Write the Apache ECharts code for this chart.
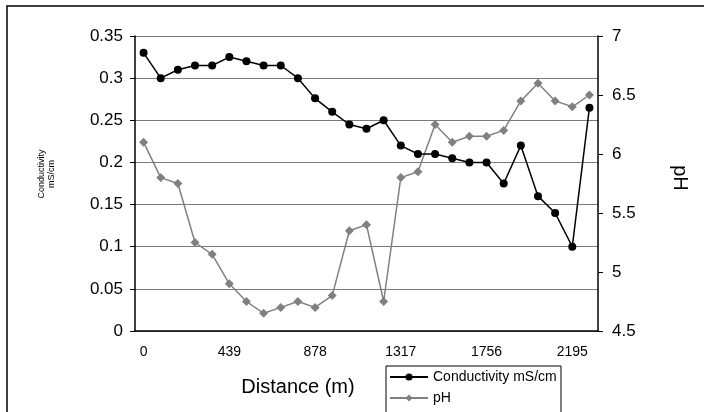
<!DOCTYPE html>
<html>
<head>
<meta charset="utf-8">
<script src="https://cdn.jsdelivr.net/npm/echarts@6/dist/echarts.min.js"></script>
<style>html,body{margin:0;padding:0;background:#fff}#c{width:704px;height:412px}</style>
</head>
<body>
<div id="c"></div>
<script>
const distances = ['0','88','176','263','351','439','527','615','702','790','878','966','1054','1141','1229','1317','1405','1493','1580','1668','1756','1844','1932','2019','2107','2195','2283'];
const conductivity = [0.33,0.30,0.31,0.315,0.315,0.325,0.32,0.315,0.315,0.30,0.276,0.26,0.245,0.24,0.25,0.22,0.21,0.21,0.205,0.20,0.20,0.175,0.22,0.16,0.14,0.10,0.265];
const ph = [6.1,5.8,5.75,5.25,5.15,4.9,4.75,4.65,4.7,4.75,4.7,4.8,5.35,5.4,4.75,5.8,5.85,6.25,6.1,6.15,6.15,6.2,6.45,6.6,6.45,6.4,6.5];
const leftTicks = {min:0, max:0.35, interval:0.05};
const rightTicks = {min:4.5, max:7, interval:0.5};

const FONT = 'Liberation Sans, Arial, sans-serif';
const legendBase = {
  orient:'vertical', left:389, itemWidth:38, itemHeight:9,
  textStyle:{fontFamily:FONT, fontSize:14, color:'#000'}, padding:0
};
const chart = echarts.init(document.getElementById('c'));
chart.setOption({
  animation:false,
  backgroundColor:'#fff',
  textStyle:{fontFamily:FONT},
  grid:{left:135, right:106, top:36, bottom:81, containLabel:false},
  legend:[
    Object.assign({}, legendBase, {top:370, data:['Conductivity mS/cm']}),
    Object.assign({}, legendBase, {top:391, data:['pH']})
  ],
  xAxis:{
    type:'category', data:distances, boundaryGap:true,
    axisLine:{lineStyle:{color:'#000', width:1.5}},
    axisTick:{interval:0, length:5, lineStyle:{color:'#000'}},
    axisLabel:{interval:4, margin:14, fontSize:14, color:'#000', fontFamily:FONT},
    splitLine:{show:false}
  },
  yAxis:[
    {type:'value', min:leftTicks.min, max:leftTicks.max, interval:leftTicks.interval,
     axisLine:{show:true, lineStyle:{color:'#000', width:1.5}},
     axisTick:{show:true, length:5, lineStyle:{color:'#000'}},
     axisLabel:{margin:12, fontSize:17, color:'#000', fontFamily:FONT},
     splitLine:{show:true, lineStyle:{color:'#7a7a7a', width:1}}},
    {type:'value', position:'right', min:rightTicks.min, max:rightTicks.max, interval:rightTicks.interval,
     axisLine:{show:true, lineStyle:{color:'#000', width:1.5}},
     axisTick:{show:true, length:5, lineStyle:{color:'#000'}},
     axisLabel:{margin:14, fontSize:17, color:'#000', fontFamily:FONT},
     splitLine:{show:false}}
  ],
  series:[
    {name:'Conductivity mS/cm', type:'line', yAxisIndex:0, data:conductivity,
     symbol:'circle', symbolSize:8, showAllSymbol:true,
     lineStyle:{color:'#000', width:1.5}, itemStyle:{color:'#000'}, z:3},
    {name:'pH', type:'line', yAxisIndex:1, data:ph,
     symbol:'diamond', symbolSize:9, showAllSymbol:true,
     lineStyle:{color:'#808080', width:1.5}, itemStyle:{color:'#808080'}, z:2}
  ],
  graphic:[
    {type:'rect', shape:{x:7, y:6, width:720, height:430}, style:{fill:null, stroke:'#000', lineWidth:1.5}, silent:true},
    {type:'rect', shape:{x:386, y:366, width:175, height:60}, style:{fill:null, stroke:'#000', lineWidth:1}, silent:true},
    {type:'text', x:298, y:387, style:{text:'Distance (m)', font:'20px '+FONT, fill:'#000', align:'center', verticalAlign:'middle'}},
    {type:'text', x:47, y:174, rotation:Math.PI/2, style:{text:'Conductivity\nmS/cm', font:'9px '+FONT, fill:'#000', align:'center', verticalAlign:'middle', lineHeight:10}},
    {type:'text', x:680, y:178, rotation:-Math.PI/2, style:{text:'pH', font:'20px '+FONT, fill:'#000', align:'center', verticalAlign:'middle'}}
  ]
});
</script>
</body>
</html>
